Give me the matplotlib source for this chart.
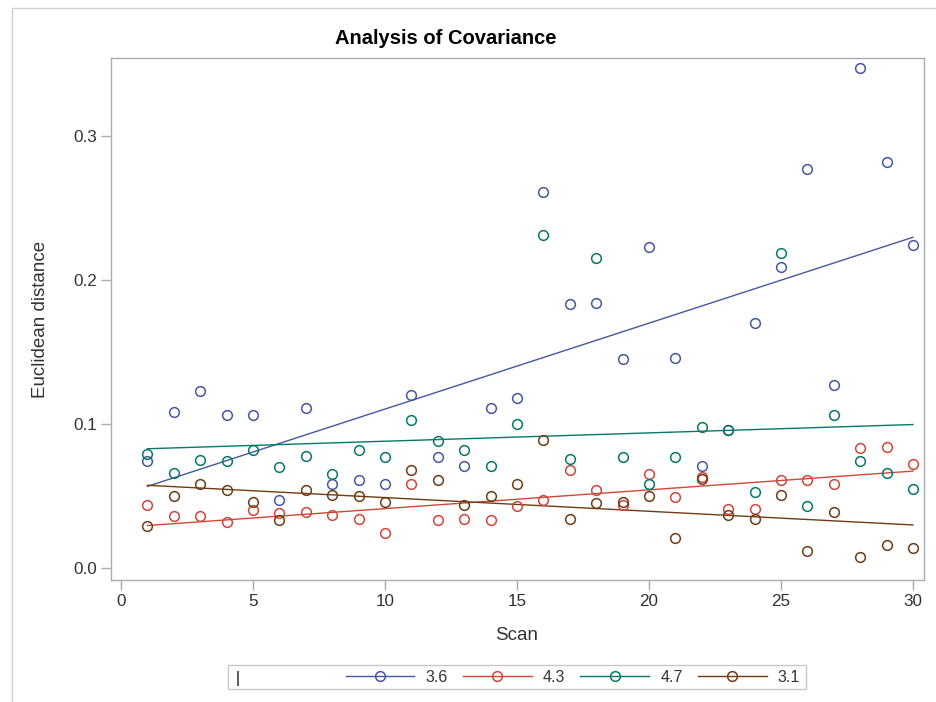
import numpy as np
import matplotlib
matplotlib.use("Agg")
import matplotlib.pyplot as plt
from matplotlib.lines import Line2D
from matplotlib.patches import Rectangle

plt.rcParams['font.family'] = ['Liberation Sans', 'DejaVu Sans']

scan = list(range(1, 31))

# Euclidean distance per group
g36 = [0.074, 0.108, 0.123, 0.106, 0.106, 0.047, 0.111, 0.058, 0.061, 0.058,
       0.120, 0.077, 0.071, 0.111, 0.118, 0.261, 0.183, 0.184, 0.145, 0.223,
       0.146, 0.071, 0.096, 0.170, 0.209, 0.277, 0.127, 0.347, 0.282, 0.224]
g43 = [0.044, 0.036, 0.036, 0.032, 0.040, 0.038, 0.039, 0.037, 0.034, 0.024,
       0.058, 0.033, 0.034, 0.033, 0.043, 0.047, 0.068, 0.054, 0.044, 0.065,
       0.049, 0.063, 0.041, 0.041, 0.061, 0.061, 0.058, 0.083, 0.084, 0.072]
g47 = [0.079, 0.066, 0.075, 0.074, 0.082, 0.070, 0.078, 0.065, 0.082, 0.077,
       0.103, 0.088, 0.082, 0.071, 0.100, 0.231, 0.076, 0.215, 0.077, 0.058,
       0.077, 0.098, 0.096, 0.053, 0.219, 0.043, 0.106, 0.074, 0.066, 0.055]
g31 = [0.029, 0.050, 0.058, 0.054, 0.046, 0.033, 0.054, 0.051, 0.050, 0.046,
       0.068, 0.061, 0.044, 0.050, 0.058, 0.089, 0.034, 0.045, 0.046, 0.050,
       0.021, 0.062, 0.037, 0.034, 0.051, 0.012, 0.039, 0.008, 0.016, 0.014]

groups = ['3.6', '4.3', '4.7', '3.1']
series = [g36, g43, g47, g31]
colors = ['#4458A0', '#D0463A', '#06786A', '#6E3C14']

W, H = 936, 702
fig = plt.figure(figsize=(W / 100, H / 100), dpi=100)
ax = fig.add_axes([111 / W, 1 - 580 / H, (924 - 111) / W, (580 - 58) / H])

x = np.array(scan)
handles = []
for name, vals, c in zip(groups, series, colors):
    y = np.array(vals)
    ax.plot(x, y, 'o', mfc='none', mec=c, ms=7, mew=1.1, zorder=3)
    # per-group linear fit
    slope, icpt = np.polyfit(x, y, 1)
    xf = np.array([x.min(), x.max()])
    ax.plot(xf, icpt + slope * xf, color=c, lw=1.0, zorder=2)
    handles.append(Line2D([], [], color=c, lw=1.0, marker='o', mfc='none',
                          mec=c, ms=7, mew=1.1))

ax.set_xlim(-0.38, 30.42)
ax.set_ylim(-0.0083, 0.354)
ax.set_xticks([0, 5, 10, 15, 20, 25, 30])
ax.set_yticks([0.0, 0.1, 0.2, 0.3])
ax.set_yticklabels(['0.0', '0.1', '0.2', '0.3'])

for s in ax.spines.values():
    s.set_color('#A8ABAF')
    s.set_linewidth(1.0)
ax.tick_params(colors='#A8ABAF', labelcolor='#333333', labelsize=12.3,
               length=7, width=1.0, pad=3)

fig.text(446 / W, 1 - 38 / H, 'Analysis of Covariance', ha='center', va='center',
         fontsize=14.5, fontweight='bold', color='#000000')
fig.text(41 / W, 1 - 319 / H, 'Euclidean distance', rotation=90, ha='center',
         va='center', fontsize=13.5, color='#333333')
fig.text(517 / W, 1 - 635 / H, 'Scan', ha='center', va='center',
         fontsize=13.5, color='#333333')

# legend box
fig.patches.append(Rectangle((228 / W, 1 - 689 / H), (806 - 228) / W, 24 / H,
                             transform=fig.transFigure, fill=False,
                             edgecolor='#C8C8C8', lw=1.0))
fig.text(238 / W, 1 - 678 / H, '|', ha='center', va='center', fontsize=11.5,
         color='#000000')
fig.legend(handles, groups, loc='center right', bbox_to_anchor=(800 / W, 1 - 677 / H),
           ncol=4, frameon=False, fontsize=11.5, handlelength=4.3,
           handletextpad=0.7, columnspacing=0.95, borderpad=0, borderaxespad=0,
           labelcolor='#333333')

# outer frame (only top and left edges visible)
fig.patches.append(Rectangle((12 / W, -0.05), 1.0, 1 - 8 / H + 0.05,
                             transform=fig.transFigure, fill=False,
                             edgecolor='#D0D0D0', lw=1.0))

fig.savefig('out.png', dpi=100)
